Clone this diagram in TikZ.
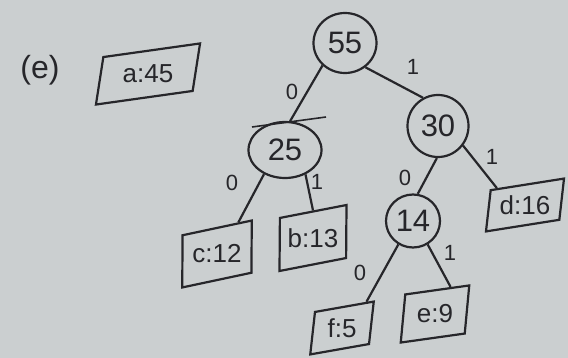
\documentclass[tikz,border=0pt]{standalone}
\usepackage{fontspec}
\usepackage{graphicx}
\setmainfont{Liberation Sans}
\usetikzlibrary{shapes.geometric}
\definecolor{paper}{RGB}{203,207,208}
\definecolor{ink}{RGB}{38,38,42}
\begin{document}
\begin{tikzpicture}[x=1pt,y=-1pt,
  every node/.style={text=ink},
  inner/.style={draw=ink, line width=2.2pt, ellipse, inner sep=0pt, font=\fontsize{31}{31}\selectfont},
  leaf/.style={draw=ink, line width=2.2pt, trapezium, trapezium left angle=72, trapezium right angle=108, trapezium stretches=true, inner sep=2pt, font=\fontsize{26}{26}\selectfont},
  bit/.style={font=\fontsize{22}{22}\selectfont},
  link/.style={draw=ink, line width=2.2pt}]
\fill[paper] (0,0) rectangle (568,358);
\useasboundingbox (0,0) rectangle (568,358);

\node[font=\fontsize{32}{32}\selectfont] (lbl) at (40,70) {(e)};

\node[inner, minimum width=63pt, minimum height=60pt] (n55) at (345,43) {55};
\node[inner, minimum width=61pt, minimum height=62pt] (n30) at (438,126) {30};
\node[inner, minimum width=73pt, minimum height=56pt] (n25) at (285,150) {25};
\node[inner, minimum width=54pt, minimum height=53pt] (n14) at (413,221) {14};

\node[leaf, rotate=8, minimum width=112pt, minimum height=46pt] (a) at (148,74) {\rotatebox{-8}{a:45}};
\node[leaf, rotate=12, minimum width=82pt, minimum height=51pt] (c) at (217,254) {\rotatebox{-12}{c:12}};
\node[leaf, rotate=11, minimum width=76pt, minimum height=52pt] (b) at (313,238) {\rotatebox{-11}{b:13}};
\node[leaf, rotate=9, minimum width=86pt, minimum height=40pt] (d) at (525,205) {\rotatebox{-9}{d:16}};
\node[leaf, rotate=10, minimum width=72pt, minimum height=41pt] (f) at (342,328) {\rotatebox{-10}{f:5}};
\node[leaf, rotate=8, minimum width=76pt, minimum height=47pt] (e) at (435,314) {\rotatebox{-8}{e:9}};

\draw[link] (n55.225) -- (n25.80);
\draw[link] (n55.310) -- (n30.118);
\draw[link] (n25.229) -- (c.44);
\draw[link] (n25.310) -- (b.79);
\draw[link] (n30.268) -- (n14.80);
\draw[link] (n30.322) -- (d.140);
\draw[link] (n14.238) -- (f.37);
\draw[link] (n14.302) -- (e.52);

\coordinate (s1) at (252,127);
\coordinate (s2) at (326,117);
\draw[link, line width=1.6pt] (s1) -- (s2);

\node[bit] (b1) at (292,92) {0};
\node[bit] (b2) at (413,67) {1};
\node[bit] (b3) at (232,183) {0};
\node[bit] (b4) at (317,182) {1};
\node[bit] (b5) at (405,178) {0};
\node[bit] (b6) at (492,157) {1};
\node[bit] (b7) at (360,273) {0};
\node[bit] (b8) at (450,253) {1};
\end{tikzpicture}
\end{document}
